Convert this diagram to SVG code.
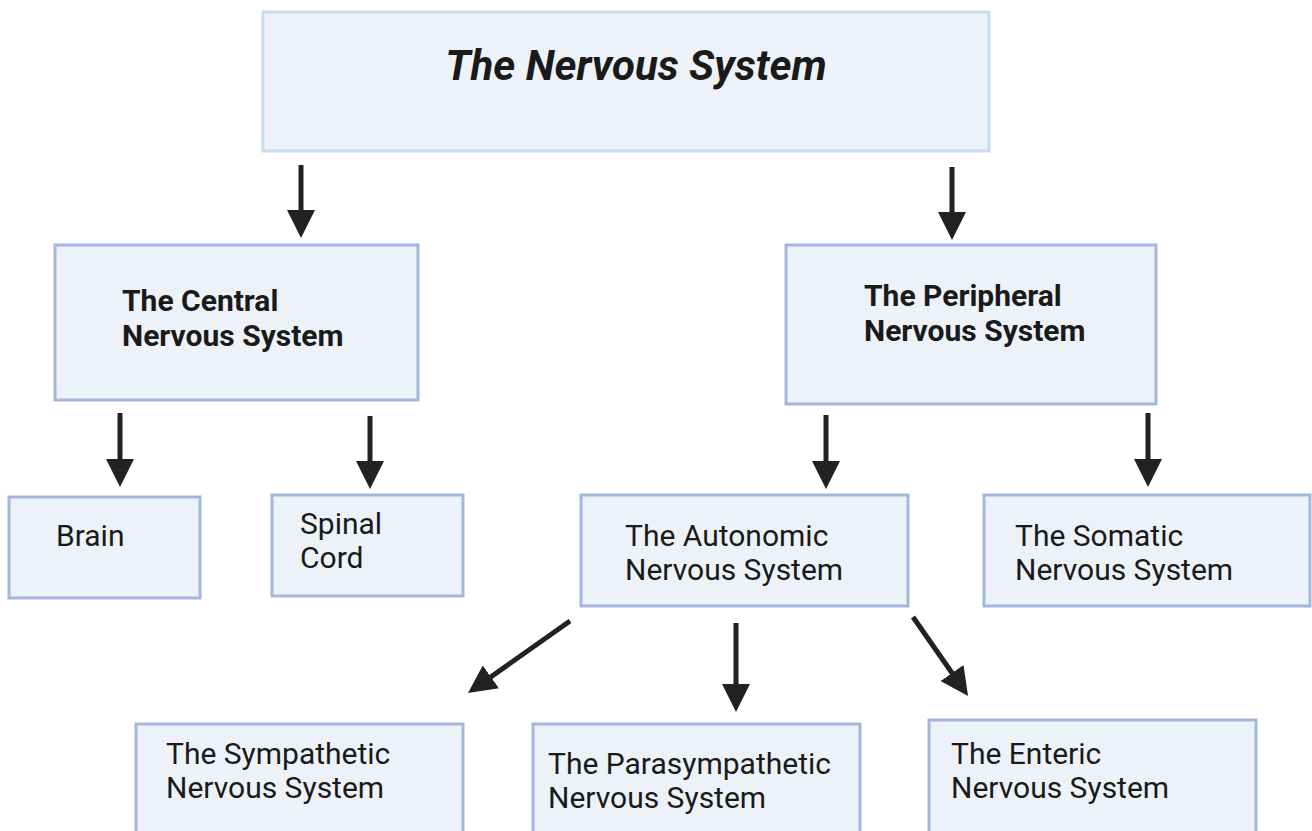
<svg xmlns="http://www.w3.org/2000/svg" width="1312" height="831" viewBox="0 0 1312 831">
<defs>
<style>
.box{fill:#edf2f9;stroke:#a3b6dd;stroke-width:3}
.top{fill:#edf2f9;stroke:#c6dcf3;stroke-width:3}
text{font-family:Roboto,"Liberation Sans",sans-serif;fill:#1a1a1a}
.t{font-size:30px}
.b{font-size:30px;font-weight:bold}
.title{font-size:42px;font-weight:bold;font-style:italic}
.c{stroke:#222;stroke-width:5;fill:none;marker-end:url(#ah)}
</style>
<marker id="ah" markerUnits="userSpaceOnUse" viewBox="0 0 28 28" refX="4" refY="14" markerWidth="28" markerHeight="28" orient="auto">
<path d="M0,0 L28,14 L0,28 Z" fill="#222"/>
</marker>
</defs>
<rect width="1312" height="831" fill="#fff"/>
<g id="nervous-system"><rect class="top" x="263" y="12" width="726" height="139"/><text class="title" x="636" y="80" text-anchor="middle">The Nervous System</text></g>
<g id="cns"><rect class="box" x="55" y="245" width="363" height="155"/><text class="b" x="122" y="311">The Central</text><text class="b" x="122" y="346">Nervous System</text></g>
<g id="pns"><rect class="box" x="786" y="245" width="370" height="159"/><text class="b" x="864" y="306">The Peripheral</text><text class="b" x="864" y="341">Nervous System</text></g>
<g id="brain"><rect class="box" x="9" y="497" width="191" height="101"/><text class="t" x="56" y="546">Brain</text></g>
<g id="spinal"><rect class="box" x="272" y="495" width="191" height="101"/><text class="t" x="300" y="534">Spinal</text><text class="t" x="300" y="568">Cord</text></g>
<g id="autonomic"><rect class="box" x="581" y="495" width="327" height="111"/><text class="t" x="625" y="546">The Autonomic</text><text class="t" x="625" y="580">Nervous System</text></g>
<g id="somatic"><rect class="box" x="984" y="495" width="326" height="111"/><text class="t" x="1015" y="546">The Somatic</text><text class="t" x="1015" y="580">Nervous System</text></g>
<g id="sympathetic"><rect class="box" x="136" y="724" width="327" height="112"/><text class="t" x="166" y="764">The Sympathetic</text><text class="t" x="166" y="798">Nervous System</text></g>
<g id="parasympathetic"><rect class="box" x="533" y="724" width="327" height="112"/><text class="t" x="548" y="774">The Parasympathetic</text><text class="t" x="548" y="808">Nervous System</text></g>
<g id="enteric"><rect class="box" x="929" y="720" width="327" height="116"/><text class="t" x="951" y="764">The Enteric</text><text class="t" x="951" y="798">Nervous System</text></g>
<g id="connectors">
<line class="c" x1="301" y1="165" x2="301" y2="214"/>
<line class="c" x1="952" y1="167" x2="952" y2="216"/>
<line class="c" x1="120" y1="413" x2="120" y2="463"/>
<line class="c" x1="370" y1="416" x2="370" y2="465"/>
<line class="c" x1="826" y1="415" x2="826" y2="465"/>
<line class="c" x1="1148" y1="413" x2="1148" y2="463"/>
<line class="c" x1="570" y1="621" x2="487.6" y2="679.2"/>
<line class="c" x1="736" y1="623" x2="736" y2="688"/>
<line class="c" x1="913" y1="617" x2="954.3" y2="676.3"/>
</g>
</svg>
